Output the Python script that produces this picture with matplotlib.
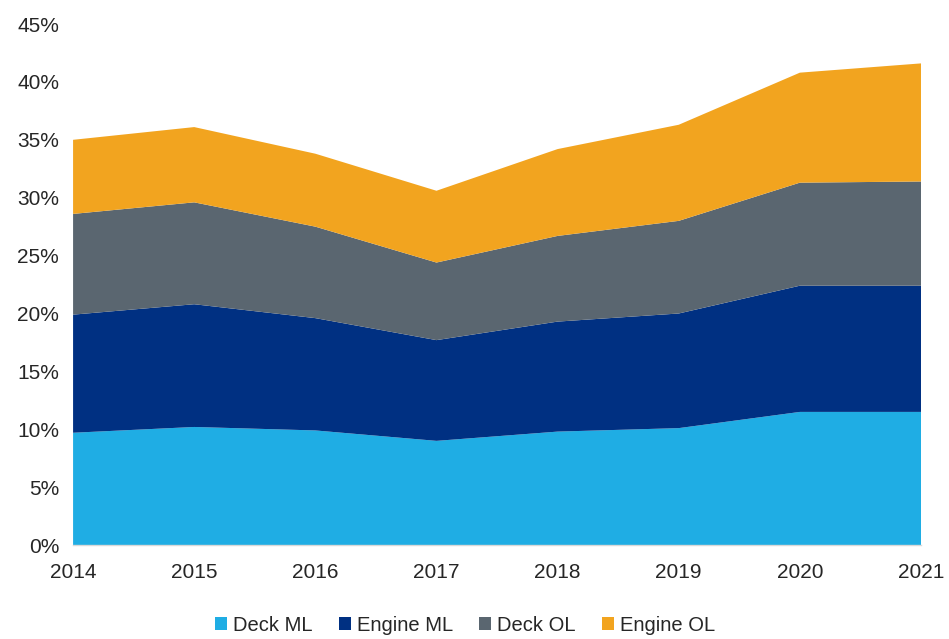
import numpy as np
import matplotlib.pyplot as plt
from matplotlib.ticker import PercentFormatter

plt.rcParams['font.family'] = ['Liberation Sans', 'DejaVu Sans']

years = [2014, 2015, 2016, 2017, 2018, 2019, 2020, 2021]
deck_ml = [9.7, 10.2, 9.9, 9.0, 9.8, 10.1, 11.5, 11.5]
engine_ml = [10.2, 10.6, 9.7, 8.7, 9.5, 9.9, 10.9, 10.9]
deck_ol = [8.7, 8.8, 7.9, 6.7, 7.4, 8.0, 8.9, 9.0]
engine_ol = [6.4, 6.5, 6.3, 6.2, 7.5, 8.3, 9.5, 10.2]

labels = ['Deck ML', 'Engine ML', 'Deck OL', 'Engine OL']
colors = ['#1FADE4', '#003082', '#5A6670', '#F2A41F']

fig = plt.figure(figsize=(9.49, 6.39), dpi=100)
ax = fig.add_axes([0.077, 0.147, 0.8935, 0.8154])

ax.stackplot(years, deck_ml, engine_ml, deck_ol, engine_ol,
             labels=labels, colors=colors, linewidth=0)

ax.set_xlim(2014, 2021)
ax.set_ylim(0, 45)
ax.set_yticks(np.arange(0, 46, 5))
ax.yaxis.set_major_formatter(PercentFormatter(decimals=0))
ax.set_xticks(years)

for s in ['top', 'right', 'left']:
    ax.spines[s].set_visible(False)
ax.spines['bottom'].set_color('#D9D9D9')
ax.spines['bottom'].set_linewidth(1.0)

ax.tick_params(axis='both', length=0, labelsize=15, colors='#262626')
ax.tick_params(axis='x', pad=13)
ax.tick_params(axis='y', pad=10)

fig.legend(loc='lower center', ncol=4, frameon=False, fontsize=14.5,
           bbox_to_anchor=(0.49, -0.022), handlelength=0.6, handleheight=0.6,
           handletextpad=0.3, columnspacing=1.3, labelcolor='#262626')

fig.savefig('out.png', dpi=100)
